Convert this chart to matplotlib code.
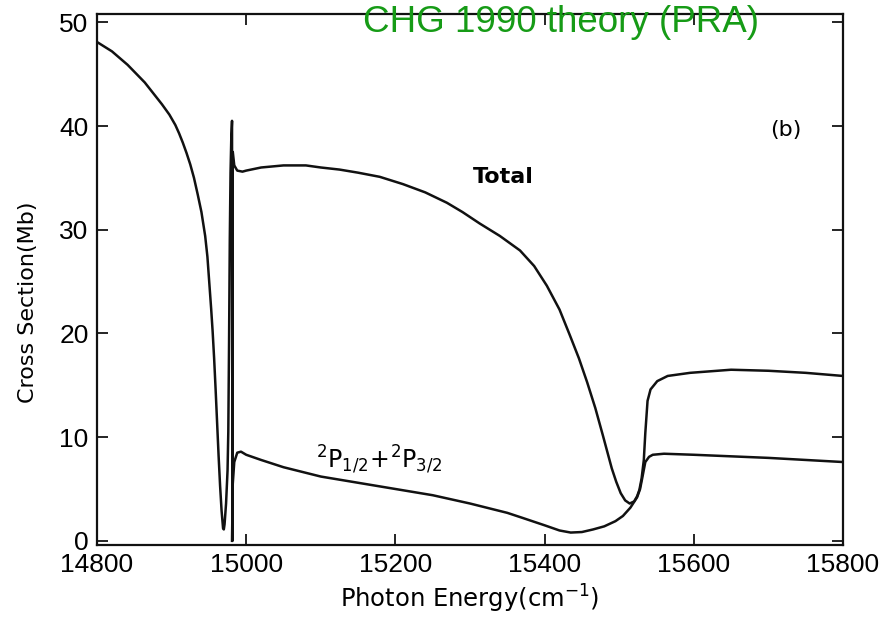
import matplotlib
matplotlib.use("Agg")
from matplotlib import pyplot as plt

# curva total (Mb) vs energia do foton (cm^-1)
E_TOTAL = [14800, 14820, 14841, 14864, 14887, 14897, 14905, 14910, 14915, 14920,
           14925, 14930, 14935, 14940, 14945, 14948, 14951, 14953, 14955, 14957,
           14959, 14961, 14963, 14965, 14967, 14969, 14970, 14971, 14973, 14975,
           14976, 14977, 14978, 14979, 14980, 14981, 14981.5, 14982, 14984, 14988,
           14995, 15000, 15020, 15050, 15080, 15100, 15125, 15150, 15179, 15210,
           15240, 15269, 15290, 15313, 15340, 15367, 15386, 15403, 15420, 15434,
           15446, 15457, 15468, 15478, 15484, 15490, 15496, 15502, 15508, 15514,
           15520, 15524, 15527, 15530, 15533, 15535, 15538, 15542, 15551, 15565,
           15595, 15650, 15700, 15750, 15800]
SIGMA_TOTAL = [48.1, 47.2, 45.9, 44.2, 42.1, 41.1, 40.1, 39.3, 38.4, 37.4,
               36.3, 35.0, 33.4, 31.7, 29.4, 27.4, 24.4, 22.4, 20.2, 17.6,
               14.6, 11.4, 8.2, 5.3, 2.9, 1.2, 1.1, 1.6, 3.6, 6.8,
               10.5, 19.0, 29.0, 35.5, 38.8, 40.5, 0.0, 37.5, 36.2, 35.7,
               35.6, 35.7, 36.0, 36.2, 36.2, 36.0, 35.8, 35.5, 35.1, 34.4,
               33.6, 32.6, 31.7, 30.6, 29.4, 28.0, 26.5, 24.6, 22.3, 19.8,
               17.6, 15.3, 12.8, 10.2, 8.6, 7.0, 5.7, 4.6, 3.9, 3.6,
               3.8, 4.3, 4.9, 6.0, 7.8, 10.4, 13.5, 14.6, 15.4, 15.9,
               16.2, 16.5, 16.4, 16.2, 15.9]

# soma parcial 2P1/2 + 2P3/2
E_PARCIAL = [14981, 14982, 14984, 14988, 14993, 15000, 15020, 15050, 15100, 15150,
             15200, 15250, 15300, 15350, 15371, 15400, 15420, 15435, 15450, 15465,
             15480, 15495, 15505, 15515, 15524, 15528, 15531, 15535, 15540, 15545,
             15560, 15600, 15700, 15800]
SIGMA_PARCIAL = [0.0, 5.5, 7.6, 8.5, 8.6, 8.3, 7.8, 7.1, 6.2, 5.6,
                 5.0, 4.4, 3.6, 2.7, 2.2, 1.5, 1.0, 0.8, 0.85, 1.1,
                 1.4, 1.9, 2.4, 3.2, 4.2, 5.0, 6.1, 7.6, 8.1, 8.3,
                 8.4, 8.3, 8.0, 7.6]

XTICKS = [14800, 15000, 15200, 15400, 15600, 15800]
YTICKS = [0, 10, 20, 30, 40, 50]

plt.rcParams['mathtext.fontset'] = 'dejavusans'

fig = plt.figure(figsize=(8.89, 6.17), dpi=100)
ax = fig.add_axes([97 / 889, 72 / 617, 746 / 889, 531 / 617])

ax.plot(E_TOTAL, SIGMA_TOTAL, color='#111111', lw=1.8)
ax.plot(E_PARCIAL, SIGMA_PARCIAL, color='#111111', lw=1.8)

ax.set_xlim(14800, 15800)
ax.set_ylim(-0.4, 50.8)
ax.set_xticks(XTICKS)
ax.set_yticks(YTICKS)
ax.tick_params(direction='in', length=8, width=1.2, top=True, right=True,
               labelsize=19, pad=6)
for lbl in ax.get_xticklabels() + ax.get_yticklabels():
    lbl.set_family('Liberation Sans')
for s in ax.spines.values():
    s.set_linewidth(1.6)
    s.set_color('#111111')

ax.set_xlabel('Photon Energy(cm$^{-1}$)', fontsize=17.5, labelpad=4)
ax.set_ylabel('Cross Section(Mb)', fontsize=16)
ax.yaxis.set_label_coords(-0.079, 0.458)

ax.text(15344, 35.1, 'Total', fontsize=16, fontweight='bold', ha='center', va='center')
ax.text(15724, 39.6, '(b)', fontsize=16, ha='center', va='center')
ax.text(15094, 7.8, r'$^{2}\mathrm{P}_{1/2}\!+\!^{2}\mathrm{P}_{3/2}$', fontsize=17,
        ha='left', va='center')

fig.text(561 / 889, 1 - 22 / 617, 'CHG 1990 theory (PRA)', color='#169b16',
         fontsize=26.5, family='Liberation Sans', ha='center', va='center')

fig.savefig('out.png', dpi=100)
